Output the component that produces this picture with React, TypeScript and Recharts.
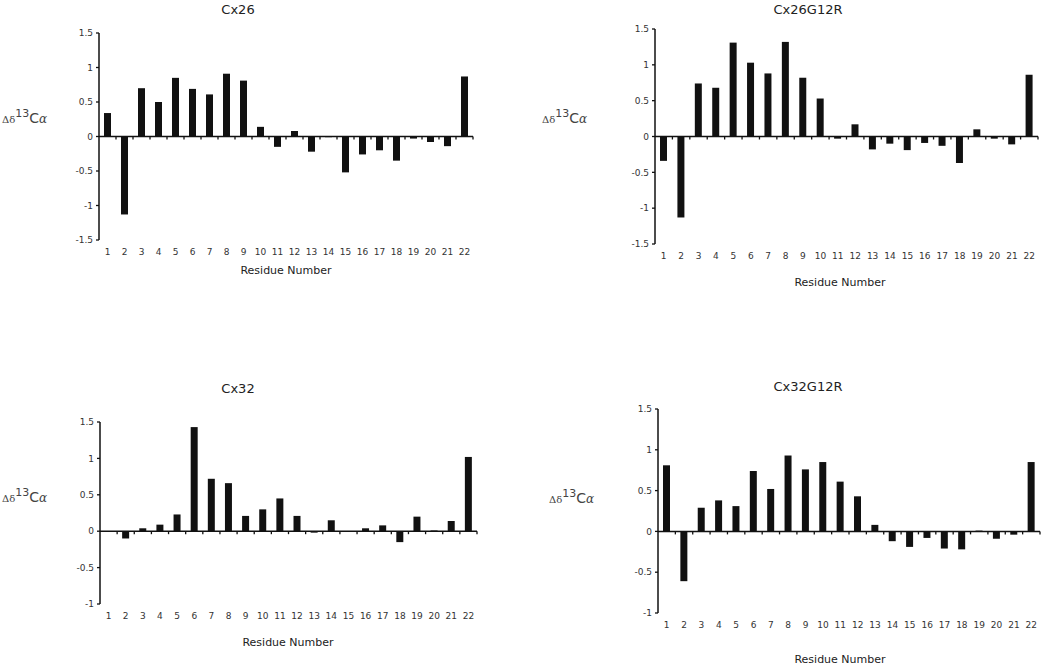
import { BarChart, Bar, XAxis, YAxis, ReferenceLine } from 'recharts';

const residues = ['1', '2', '3', '4', '5', '6', '7', '8', '9', '10', '11', '12', '13', '14', '15', '16', '17', '18', '19', '20', '21', '22'];

const cx26 = [0.34, -1.13, 0.7, 0.5, 0.85, 0.69, 0.61, 0.91, 0.81, 0.14, -0.15, 0.08, -0.22, -0.01, -0.52, -0.26, -0.2, -0.35, -0.03, -0.08, -0.14, 0.87];
const cx26g12r = [-0.34, -1.13, 0.74, 0.68, 1.31, 1.03, 0.88, 1.32, 0.82, 0.53, -0.03, 0.17, -0.18, -0.1, -0.19, -0.09, -0.13, -0.37, 0.1, -0.03, -0.11, 0.86];
const cx32 = [0, -0.1, 0.04, 0.09, 0.23, 1.43, 0.72, 0.66, 0.21, 0.3, 0.45, 0.21, -0.02, 0.15, -0.01, 0.04, 0.08, -0.15, 0.2, 0.01, 0.14, 1.02];
const cx32g12r = [0.81, -0.61, 0.29, 0.38, 0.31, 0.74, 0.52, 0.93, 0.76, 0.85, 0.61, 0.43, 0.08, -0.12, -0.19, -0.08, -0.21, -0.22, 0.01, -0.09, -0.04, 0.85];

const ticksFull = [-1.5, -1, -0.5, 0, 0.5, 1, 1.5];
const ticksShort = [-1, -0.5, 0, 0.5, 1, 1.5];

const INK = '#111';
const FONT = '"DejaVu Sans", Verdana, sans-serif';

function ZeroAxis(props: any) {
  const { x1, y1, x2, y2 } = props;
  const step = (x2 - x1) / residues.length;
  return (
    <g>
      <line x1={x1} y1={y1} x2={x2} y2={y2} stroke={INK} strokeWidth={1.5} />
      {residues.map((r, i) => (
        <line key={r} x1={x1 + (i + 1) * step} x2={x1 + (i + 1) * step} y1={y1} y2={y1 + 3} stroke={INK} strokeWidth={1.3} />
      ))}
    </g>
  );
}

function DeltaLabel({ left, top }: { left: number; top: number }) {
  return (
    <div style={{ position: 'absolute', left, top, whiteSpace: 'nowrap', lineHeight: 1, color: '#444', fontFamily: '"DejaVu Serif", serif' }}>
      <span style={{ fontSize: 10 }}>Δδ</span>
      <span style={{ fontSize: 11, fontFamily: FONT, position: 'relative', top: -6 }}>13</span>
      <span style={{ fontSize: 14, fontFamily: FONT }}>C</span>
      <span style={{ fontSize: 12, fontStyle: 'italic' }}>α</span>
    </div>
  );
}

interface PanelProps {
  title: string;
  values: number[];
  ticks: number[];
  left: number;
  top: number;
  width: number;
  height: number;
  margin: { top: number; right: number; bottom: number; left: number };
  titleX: number;
  titleY: number;
  labelX: number;
  labelY: number;
  xTitleX: number;
  xTitleY: number;
}

function Panel(p: PanelProps) {
  const data = residues.map((r, i) => ({ residue: r, value: p.values[i] }));
  const lo = p.ticks[0];
  const hi = p.ticks[p.ticks.length - 1];
  return (
    <>
      <div style={{ position: 'absolute', left: p.left, top: p.top }}>
        <BarChart width={p.width} height={p.height} data={data} margin={p.margin} barSize={7}>
          <XAxis
            dataKey="residue"
            axisLine={false}
            tickLine={false}
            tickSize={0}
            tickMargin={9}
            interval={0}
            height={20}
            tick={{ fontSize: 9, fill: '#333', fontFamily: FONT }}
          />
          <YAxis
            domain={[lo, hi]}
            ticks={p.ticks}
            width={40}
            axisLine={{ stroke: INK, strokeWidth: 1.5 }}
            tickLine={{ stroke: INK, strokeWidth: 1.3 }}
            tickSize={3}
            tickMargin={3}
            tick={{ fontSize: 9, fill: '#333', fontFamily: FONT }}
          />
          <Bar dataKey="value" fill={INK} isAnimationActive={false} />
          <ReferenceLine y={0} shape={ZeroAxis} />
        </BarChart>
      </div>
      <div style={{ position: 'absolute', left: p.titleX - 60, top: p.titleY - 8, width: 120, textAlign: 'center', fontSize: 13, fontFamily: FONT, color: '#222' }}>
        {p.title}
      </div>
      <DeltaLabel left={p.labelX} top={p.labelY} />
      <div style={{ position: 'absolute', left: p.xTitleX - 70, top: p.xTitleY - 7, width: 140, textAlign: 'center', fontSize: 11, fontFamily: FONT, color: '#222' }}>
        Residue Number
      </div>
    </>
  );
}

export default function App() {
  return (
    <div style={{ position: 'absolute', left: 0, top: 0, width: 1050, height: 666, background: '#fff' }}>
      <Panel
        title="Cx26" values={cx26} ticks={ticksFull}
        left={0} top={0} width={520} height={290}
        margin={{ top: 33, right: 47, bottom: 30, left: 59 }}
        titleX={238} titleY={10} labelX={2} labelY={110} xTitleX={286} xTitleY={271}
      />
      <Panel
        title="Cx26G12R" values={cx26g12r} ticks={ticksFull}
        left={520} top={0} width={530} height={290}
        margin={{ top: 29, right: 12, bottom: 26, left: 95 }}
        titleX={808} titleY={10} labelX={542} labelY={110} xTitleX={840} xTitleY={283}
      />
      <Panel
        title="Cx32" values={cx32} ticks={ticksShort}
        left={0} top={370} width={520} height={296}
        margin={{ top: 52, right: 43, bottom: 42, left: 60 }}
        titleX={238} titleY={389} labelX={2} labelY={489} xTitleX={288} xTitleY={643}
      />
      <Panel
        title="Cx32G12R" values={cx32g12r} ticks={ticksShort}
        left={520} top={370} width={530} height={296}
        margin={{ top: 39, right: 10, bottom: 33, left: 98 }}
        titleX={808} titleY={387} labelX={549} labelY={490} xTitleX={840} xTitleY={660}
      />
    </div>
  );
}
